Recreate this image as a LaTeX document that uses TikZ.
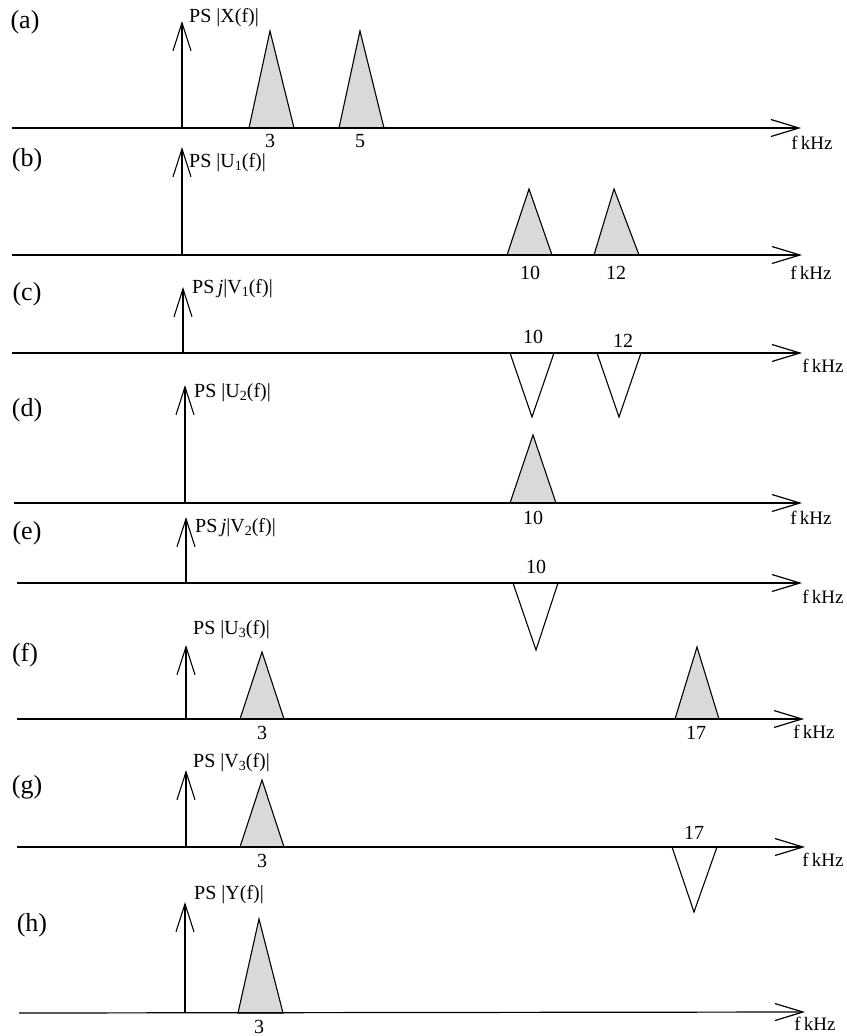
\documentclass[tikz,border=0pt]{standalone}
\usepackage{fontspec}
\setmainfont{Liberation Serif}
\usetikzlibrary{arrows.meta}
\newcommand{\sbs}[1]{\raisebox{-0.3ex}{\fontsize{14}{14}\selectfont #1}}
\tikzset{
  axisline/.style={line width=1.2pt, -{Straight Barb[length=28pt,width=17pt,line width=1.2pt]}},
  spike/.style={line width=1.1pt, -{Straight Barb[length=28pt,width=18pt,line width=1.1pt]}},
  band/.style={draw, line width=1.1pt, fill=black!15, line join=miter},
  vband/.style={draw, line width=1.1pt, fill=white, line join=miter},
  lbl/.style={inner sep=0pt, font=\fontsize{20}{22}\selectfont},
  pslbl/.style={lbl, anchor=west},
  panel/.style={inner sep=0pt, font=\fontsize{26}{28}\selectfont},
  unit/.style={inner sep=0pt, font=\fontsize{19}{21}\selectfont},
}
\begin{document}
\begin{tikzpicture}[x=1pt,y=-1pt]
\useasboundingbox (0,0) rectangle (846,1036);

% ---------------- (a)
\node[panel] (pa) at (25,22) {(a)};
\filldraw[band] (249,128) -- (270,31) -- (294,128) -- cycle;
\filldraw[band] (339,128) -- (360,31) -- (384,128) -- cycle;
\coordinate (al) at (12,128); \coordinate (ar) at (801,128);
\draw[axisline] (al) -- (ar);
\coordinate (ao) at (182,128); \coordinate (at) at (182,21);
\draw[spike] (ao) -- (at);
\node[pslbl] (psa) at (189,18) {PS |X(f)|};
\node[lbl] (a3) at (270,141) {3};
\node[lbl] (a5) at (360,141) {5};
\node[unit] (fa) at (812,143) {f\,kHz};

% ---------------- (b)
\node[panel] (pb) at (27,160) {(b)};
\filldraw[band] (507,255) -- (529,189) -- (552,255) -- cycle;
\filldraw[band] (594,255) -- (614,189) -- (639,255) -- cycle;
\coordinate (bl) at (12,255); \coordinate (br) at (802,255);
\draw[axisline] (bl) -- (br);
\coordinate (bo) at (182,255); \coordinate (bt) at (182,147);
\draw[spike] (bo) -- (bt);
\node[pslbl] (psb) at (189,163) {PS |U\sbs{1}(f)|};
\node[lbl] (b10) at (530,273) {10};
\node[lbl] (b12) at (616,273) {12};
\node[unit] (fb) at (811,273) {f\,kHz};

% ---------------- (c)
\node[panel] (pc) at (27,294) {(c)};
\filldraw[vband] (510,353) -- (532,417) -- (554,353) -- cycle;
\filldraw[vband] (597,353) -- (619,417) -- (641,353) -- cycle;
\coordinate (cl) at (12,353); \coordinate (cr) at (802,353);
\draw[axisline] (cl) -- (cr);
\coordinate (co) at (183,353); \coordinate (ct) at (183,287);
\draw[spike] (co) -- (ct);
\node[pslbl] (psc) at (192,289) {PS\,{\itshape j}|V\sbs{1}(f)|};
\node[lbl] (c10) at (533,337) {10};
\node[lbl] (c12) at (623,341) {12};
\node[unit] (fc) at (823,366) {f\,kHz};

% ---------------- (d)
\node[panel] (pd) at (27,410) {(d)};
\filldraw[band] (510,503) -- (533,435) -- (556,503) -- cycle;
\coordinate (dl) at (14,503); \coordinate (dr) at (802,503);
\draw[axisline] (dl) -- (dr);
\coordinate (do) at (185,503); \coordinate (dt) at (185,385);
\draw[spike] (do) -- (dt);
\node[pslbl] (psd) at (194,393) {PS |U\sbs{2}(f)|};
\node[lbl] (d10) at (533,518) {10};
\node[unit] (fd) at (811,518) {f\,kHz};

% ---------------- (e)
\node[panel] (pe) at (27,533) {(e)};
\filldraw[vband] (513,583) -- (536,650) -- (558,583) -- cycle;
\coordinate (el) at (17,583); \coordinate (er) at (802,583);
\draw[axisline] (el) -- (er);
\coordinate (eo) at (186,583); \coordinate (et) at (186,517);
\draw[spike] (eo) -- (et);
\node[pslbl] (pse) at (195,528) {PS\,{\itshape j}|V\sbs{2}(f)|};
\node[lbl] (e10) at (536,567) {10};
\node[unit] (fe) at (823,597) {f\,kHz};

% ---------------- (f)
\node[panel] (pf) at (25,655) {(f)};
\filldraw[band] (240,719) -- (262,652) -- (284,719) -- cycle;
\filldraw[band] (675,719) -- (697,647) -- (719,719) -- cycle;
\coordinate (fl) at (17,719); \coordinate (fr) at (804,719);
\draw[axisline] (fl) -- (fr);
\coordinate (fo) at (186,719); \coordinate (ft) at (186,645);
\draw[spike] (fo) -- (ft);
\node[pslbl] (psf) at (193,630) {PS |U\sbs{3}(f)|};
\node[lbl] (f3) at (262,733) {3};
\node[lbl] (f17) at (696,733) {17};
\node[unit] (ff) at (814,732) {f\,kHz};

% ---------------- (g)
\node[panel] (pg) at (27,787) {(g)};
\filldraw[band] (240,847) -- (262,780) -- (284,847) -- cycle;
\filldraw[vband] (672,847) -- (694,912) -- (717,847) -- cycle;
\coordinate (gl) at (17,847); \coordinate (gr) at (805,847);
\draw[axisline] (gl) -- (gr);
\coordinate (go) at (186,847); \coordinate (gt) at (186,770);
\draw[spike] (go) -- (gt);
\node[pslbl] (psg) at (193,763) {PS |V\sbs{3}(f)|};
\node[lbl] (g3) at (262,861) {3};
\node[lbl] (g17) at (694,833) {17};
\node[unit] (fg) at (823,860) {f\,kHz};

% ---------------- (h)
\node[panel] (ph) at (32,925) {(h)};
\filldraw[band] (238,1013) -- (259,919) -- (283,1013) -- cycle;
\coordinate (hl) at (19,1013); \coordinate (hr) at (805,1012);
\draw[axisline] (hl) -- (hr);
\coordinate (ho) at (185,1013); \coordinate (ht) at (185,902);
\draw[spike] (ho) -- (ht);
\node[pslbl] (psh) at (194,895) {PS |Y(f)|};
\node[lbl] (h3) at (259,1027) {3};
\node[unit] (fh) at (815,1024) {f\,kHz};
\end{tikzpicture}
\end{document}
